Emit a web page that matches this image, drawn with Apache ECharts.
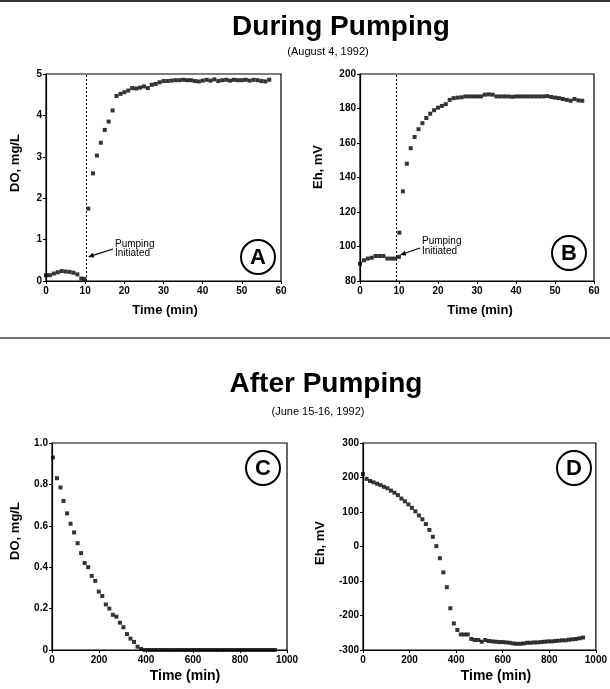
<!DOCTYPE html>
<html>
<head>
<meta charset="utf-8">
<script src="https://cdn.jsdelivr.net/npm/echarts@6/dist/echarts.min.js"></script>
<style>
  html, body { margin: 0; padding: 0; background: #fff; }
  #chart { width: 610px; height: 689px; }
</style>
</head>
<body>
<div id="chart"></div>
<script>
// panel A - DO during pumping
var aTime = [0, 1, 2, 3, 4, 5, 6, 7, 8, 9, 9.8, 10.8, 12, 13, 14, 15, 16, 17, 18, 19, 20, 21, 22, 23, 24, 25, 26, 27, 28, 29,
    30, 31, 32, 33, 34, 35, 36, 37, 38, 39, 40, 41, 42, 43, 44, 45, 46, 47, 48, 49, 50, 51, 52, 53, 54, 55, 56, 57];
var aDO = [0.14, 0.14, 0.18, 0.21, 0.24, 0.23, 0.22, 0.20, 0.16, 0.06, 0.05, 1.75, 2.6, 3.03, 3.34, 3.65, 3.85, 4.12, 4.47, 4.52,
    4.56, 4.6, 4.66, 4.65, 4.67, 4.70, 4.66, 4.74, 4.76, 4.8, 4.83, 4.83, 4.84, 4.85, 4.85, 4.86, 4.85, 4.85, 4.83, 4.82,
    4.84, 4.86, 4.84, 4.87, 4.83, 4.85, 4.86, 4.84, 4.86, 4.85, 4.85, 4.86, 4.84, 4.86, 4.85, 4.83, 4.82, 4.86];

// panel B - Eh during pumping
var bTime = [0, 1, 2, 3, 4, 5, 6, 7, 8, 9, 10, 10.1, 11, 12, 13, 14, 15, 16, 17, 18, 19, 20, 21, 22, 23, 24, 25, 26, 27, 28, 29,
    30, 31, 32, 33, 34, 35, 36, 37, 38, 39, 40, 41, 42, 43, 44, 45, 46, 47, 48, 49, 50, 51, 52, 53, 54, 55, 56, 57];
var bEh = [90, 92, 93, 93.5, 94.5, 94.5, 94.5, 93, 93, 93, 94, 108, 132, 148, 157, 163.5, 168, 171.5, 174.5, 177, 179, 180.5,
    181.5, 182.5, 185, 186, 186.3, 186.5, 187, 187, 187, 187, 187, 188, 188.2, 188, 187, 187, 187, 187, 186.8, 187, 187, 187,
    187, 187, 187, 187, 187, 187.2, 186.7, 186.3, 186, 185.5, 185, 184.5, 185.5, 184.7, 184.5];

// panel C - DO after pumping
var cTime = [4, 21, 36, 49, 64, 79, 94, 109, 124, 139, 154, 169, 184, 199, 214, 229, 244, 259, 274, 289, 304, 319, 334, 349,
    364, 379, 394, 409, 424, 439, 454, 469, 484, 499, 514, 529, 544, 559, 574, 589, 604, 619, 634, 649, 664, 679, 694, 709,
    724, 739, 754, 769, 784, 799, 814, 829, 844, 859, 874, 889, 904, 919, 934, 949];
var cDO = [0.93, 0.83, 0.785, 0.72, 0.66, 0.61, 0.568, 0.516, 0.468, 0.42, 0.40, 0.358, 0.334, 0.282, 0.261, 0.22, 0.20, 0.17,
    0.161, 0.132, 0.11, 0.077, 0.055, 0.039, 0.016, 0.005, 0, 0, 0, 0, 0, 0, 0, 0, 0, 0, 0, 0, 0, 0, 0, 0, 0, 0, 0, 0, 0, 0,
    0, 0, 0, 0, 0, 0, 0, 0, 0, 0, 0, 0, 0, 0, 0, 0];

// panel D - Eh after pumping
var dTime = [0, 15, 30, 45, 60, 75, 90, 105, 120, 135, 150, 165, 180, 195, 210, 225, 240, 255, 270, 285, 300, 315, 330, 345,
    360, 375, 390, 405, 420, 435, 450, 465, 480, 495, 510, 525, 540, 555, 570, 585, 600, 615, 630, 645, 660, 675, 690, 705,
    720, 735, 750, 765, 780, 795, 810, 825, 840, 855, 870, 885, 900, 915, 930, 945];
var dEh = [210, 196, 190, 186, 182, 178, 173, 169, 162, 156, 149, 139, 131, 122, 112, 102, 90, 79, 65, 48, 28, 1, -34, -75,
    -118, -179, -223, -242, -255, -255, -255, -268, -271, -271, -276, -271, -274, -275, -276, -277, -277, -278, -279, -281,
    -282, -282, -281, -279, -279, -278, -278, -277, -276, -275, -275, -274, -273, -272, -272, -270, -269, -268, -266, -264];

var pumpStartA = 10.3, pumpStartB = 9.2;

var FONT = "Liberation Sans";

var pairs = function (xs, ys) {
    return xs.map(function (x, i) { return [x, ys[i]]; });
};

var xAx = function (grid, max, interval) {
    return {
        type: "value", gridIndex: grid, min: 0, max: max, interval: interval,
        axisLine: { onZero: false, lineStyle: { color: "#000", width: 1.2 } },
        axisTick: { show: true, length: 3, lineStyle: { color: "#000" } },
        axisLabel: { color: "#000", fontSize: 10, fontWeight: "bold", fontFamily: FONT, margin: 5,
            formatter: function (v) { return String(v); } },
        splitLine: { show: false }
    };
};
var yAx = function (grid, min, max, interval, fmt) {
    return {
        type: "value", gridIndex: grid, min: min, max: max, interval: interval,
        axisLine: { show: true, onZero: false, lineStyle: { color: "#000", width: 1.2 } },
        axisTick: { show: true, length: 3, lineStyle: { color: "#000" } },
        axisLabel: { color: "#000", fontSize: 10, fontWeight: "bold", fontFamily: FONT, margin: 4,
            formatter: fmt || function (v) { return String(v); } },
        splitLine: { show: false }
    };
};

var dots = function (idx, data, mark) {
    var s = {
        type: "scatter", xAxisIndex: idx, yAxisIndex: idx, data: data,
        symbol: "rect", symbolSize: 4, itemStyle: { color: "#000" }, silent: true
    };
    if (mark != null) {
        s.markLine = {
            silent: true, symbol: "none", label: { show: false },
            lineStyle: { color: "#000", type: [2, 2], width: 1 },
            data: [{ xAxis: mark }]
        };
    }
    return s;
};

var txt = function (x, y, text, size, opts) {
    opts = opts || {};
    return {
        type: "text", x: x, y: y, rotation: opts.rot || 0, z: 10,
        style: {
            text: text, fill: "#000", font: (opts.weight || "bold") + " " + size + "px '" + FONT + "'",
            textAlign: opts.align || "center", textVerticalAlign: "middle"
        }
    };
};
var badge = function (cx, cy, letter) {
    return [
        { type: "circle", shape: { cx: cx, cy: cy, r: 17 }, style: { fill: "#fff", stroke: "#000", lineWidth: 2 }, z: 9 },
        txt(cx, cy + 1, letter, 22)
    ];
};
var arrow = function (x1, y1, x2, y2) {
    var ang = Math.atan2(y2 - y1, x2 - x1), L = 6, W = 2.5;
    var bx = x2 - L * Math.cos(ang), by = y2 - L * Math.sin(ang);
    var px = -Math.sin(ang) * W, py = Math.cos(ang) * W;
    return [
        { type: "line", shape: { x1: x1, y1: y1, x2: bx, y2: by }, style: { stroke: "#000", lineWidth: 1.2 }, z: 10 },
        { type: "polygon", shape: { points: [[x2, y2], [bx + px, by + py], [bx - px, by - py]] }, style: { fill: "#000" }, z: 10 }
    ];
};

var graphics = [
    { type: "line", shape: { x1: 0, y1: 1, x2: 610, y2: 1 }, style: { stroke: "#333", lineWidth: 2 } },
    { type: "line", shape: { x1: 0, y1: 338, x2: 610, y2: 338 }, style: { stroke: "#444", lineWidth: 1.5 } },
    txt(341, 27, "During Pumping", 28),
    txt(328, 52, "(August 4, 1992)", 11, { weight: "normal" }),
    txt(326, 384, "After Pumping", 28),
    txt(318, 412, "(June 15-16, 1992)", 11, { weight: "normal" }),
    txt(15, 163, "DO, mg/L", 13, { rot: Math.PI / 2 }),
    txt(318, 167, "Eh, mV", 13, { rot: Math.PI / 2 }),
    txt(15, 531, "DO, mg/L", 13, { rot: Math.PI / 2 }),
    txt(320, 543, "Eh, mV", 13, { rot: Math.PI / 2 }),
    txt(165, 310, "Time (min)", 13),
    txt(480, 310, "Time (min)", 13),
    txt(185, 676, "Time (min)", 14),
    txt(496, 676, "Time (min)", 14),
    txt(115, 244, "Pumping", 10, { weight: "normal", align: "left" }),
    txt(115, 253, "Initiated", 10, { weight: "normal", align: "left" }),
    txt(422, 241, "Pumping", 10, { weight: "normal", align: "left" }),
    txt(422, 251, "Initiated", 10, { weight: "normal", align: "left" })
];
graphics = graphics
    .concat(arrow(113, 249, 88, 257))
    .concat(arrow(420, 248, 400, 255))
    .concat(badge(258, 257, "A"))
    .concat(badge(569, 253, "B"))
    .concat(badge(263, 468, "C"))
    .concat(badge(574, 468, "D"));

var grids = [
    { left: 46, top: 74, width: 235, height: 207 },
    { left: 360, top: 74, width: 234, height: 207 },
    { left: 52, top: 443, width: 235, height: 207 },
    { left: 363, top: 443, width: 235, height: 207 }
].map(function (g) {
    g.show = true; g.borderColor = "#000"; g.borderWidth = 1.2; g.backgroundColor = "transparent";
    return g;
});

var chart = echarts.init(document.getElementById("chart"), null, { renderer: "canvas" });
chart.setOption({
    animation: false,
    textStyle: { fontFamily: FONT },
    grid: grids,
    xAxis: [xAx(0, 60, 10), xAx(1, 60, 10), xAx(2, 1000, 200), xAx(3, 1000, 200)],
    yAxis: [
        yAx(0, 0, 5, 1),
        yAx(1, 80, 200, 20),
        yAx(2, 0, 1, 0.2, function (v) { return v === 0 ? "0" : v.toFixed(1); }),
        yAx(3, -300, 300, 100)
    ],
    series: [
        dots(0, pairs(aTime, aDO), pumpStartA),
        dots(1, pairs(bTime, bEh), pumpStartB),
        dots(2, pairs(cTime, cDO)),
        dots(3, pairs(dTime, dEh))
    ],
    graphic: graphics
});
</script>
</body>
</html>
